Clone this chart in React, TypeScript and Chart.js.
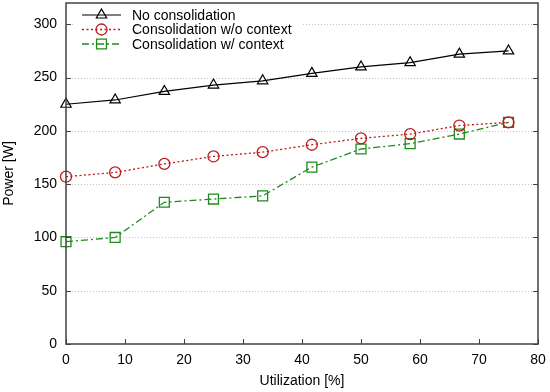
import React, { useEffect, useRef } from 'react';
import { Chart, registerables } from 'chart.js';

Chart.register(...registerables);

const utilization = [0, 8.33, 16.67, 25, 33.33, 41.67, 50, 58.33, 66.67, 75];
const noConsolidation = [225, 229, 237, 243, 247, 254, 260, 264, 272, 275];
const consolidationWithoutContext = [157, 161, 169, 176, 180, 187, 193, 197, 205, 208];
const consolidationWithContext = [96, 100, 133, 136, 139, 166, 183, 188, 197, 208];
const seriesLabels = ['No consolidation', 'Consolidation w/o context', 'Consolidation w/ context'];
const xTickValues = [0, 10, 20, 30, 40, 50, 60, 70, 80];
const yTickValues = [0, 50, 100, 150, 200, 250, 300];
const xTitle = 'Utilization [%]';
const yTitle = 'Power [W]';

const FONT = "'Liberation Sans', Arial, sans-serif";

function drawMarker(ctx: CanvasRenderingContext2D, style: string, x: number, y: number, r: number) {
  ctx.beginPath();
  if (style === 'triangle') {
    let rad = 0;
    ctx.moveTo(x + Math.sin(rad) * r, y - Math.cos(rad) * r);
    rad += (2 * Math.PI) / 3;
    ctx.lineTo(x + Math.sin(rad) * r, y - Math.cos(rad) * r);
    rad += (2 * Math.PI) / 3;
    ctx.lineTo(x + Math.sin(rad) * r, y - Math.cos(rad) * r);
    ctx.closePath();
  } else if (style === 'circle') {
    ctx.arc(x, y, r, 0, Math.PI * 2);
  } else {
    const s = Math.SQRT1_2 * r;
    ctx.rect(x - s, y - s, 2 * s, 2 * s);
  }
  ctx.stroke();
}

const framePlugin = {
  id: 'frame',
  beforeDatasetsDraw(chart: any) {
    const { ctx, chartArea: a, scales } = chart;
    ctx.save();
    ctx.strokeStyle = '#c4c4c4';
    ctx.lineWidth = 1;
    ctx.setLineDash([1, 2]);
    scales.y.ticks.forEach((t: any) => {
      if (t.value <= 0) return;
      const y = Math.round(scales.y.getPixelForValue(t.value)) + 0.5;
      ctx.beginPath();
      ctx.moveTo(a.left, y);
      ctx.lineTo(a.right, y);
      ctx.stroke();
    });
    ctx.restore();
  },
  afterDatasetsDraw(chart: any) {
    const { ctx, chartArea: a } = chart;
    ctx.save();
    // legend
    const x1 = a.left + 16;
    const x2 = a.left + 55;
    const tx = a.left + 66;
    const y0 = a.top + 12;
    const dy = 14.5;
    ctx.fillStyle = '#ffffff';
    ctx.fillRect(a.left + 9, a.top + 3, 228, 48);
    chart.data.datasets.forEach((ds: any, i: number) => {
      const y = y0 + i * dy;
      ctx.strokeStyle = ds.borderColor;
      ctx.lineWidth = ds.borderWidth;
      ctx.setLineDash(ds.borderDash || []);
      ctx.beginPath();
      ctx.moveTo(x1, y);
      ctx.lineTo(x2, y);
      ctx.stroke();
      ctx.setLineDash([]);
      ctx.lineWidth = ds.pointBorderWidth;
      drawMarker(ctx, ds.pointStyle, (x1 + x2) / 2, y, ds.pointRadius);
      ctx.fillStyle = '#000';
      ctx.font = `14px ${FONT}`;
      ctx.textAlign = 'left';
      ctx.textBaseline = 'middle';
      ctx.fillText(ds.label, tx, y + 1);
    });
    ctx.restore();
  },
  afterDraw(chart: any) {
    const { ctx, chartArea: a, scales } = chart;
    ctx.save();
    ctx.strokeStyle = '#404040';
    ctx.lineWidth = 1.5;
    ctx.setLineDash([]);
    ctx.strokeRect(a.left, a.top, a.right - a.left, a.bottom - a.top);
    ctx.lineWidth = 1;
    const tl = 5;
    scales.x.ticks.forEach((t: any) => {
      const x = Math.round(scales.x.getPixelForValue(t.value)) + 0.5;
      ctx.beginPath();
      ctx.moveTo(x, a.bottom);
      ctx.lineTo(x, a.bottom - tl);
      ctx.stroke();
    });
    scales.y.ticks.forEach((t: any) => {
      const y = Math.round(scales.y.getPixelForValue(t.value)) + 0.5;
      ctx.beginPath();
      ctx.moveTo(a.left, y);
      ctx.lineTo(a.left + tl, y);
      ctx.moveTo(a.right, y);
      ctx.lineTo(a.right - tl, y);
      ctx.stroke();
    });
    ctx.restore();
  },
};

export default function App() {
  const ref = useRef<HTMLCanvasElement>(null);
  useEffect(() => {
    if (!ref.current) return;
    Chart.defaults.font.family = FONT;
    Chart.defaults.font.size = 14;
    Chart.defaults.color = '#000';
    const pts = (vals: number[]) => vals.map((v, i) => ({ x: utilization[i], y: v }));
    const chart = new Chart(ref.current, {
      type: 'line',
      data: {
        datasets: [
          {
            label: seriesLabels[0],
            data: pts(noConsolidation),
            borderColor: '#000000',
            borderWidth: 1.2,
            pointStyle: 'triangle',
            pointRadius: 6,
            pointBorderWidth: 1.2,
            pointBorderColor: '#000000',
            pointBackgroundColor: 'rgba(0,0,0,0)',
            clip: false,
          },
          {
            label: seriesLabels[1],
            data: pts(consolidationWithoutContext),
            borderColor: '#bb1a1a',
            borderWidth: 1.3,
            borderDash: [2, 2.5],
            pointStyle: 'circle',
            pointRadius: 5.5,
            pointBorderWidth: 1.3,
            pointBorderColor: '#bb1a1a',
            pointBackgroundColor: 'rgba(0,0,0,0)',
            clip: false,
          },
          {
            label: seriesLabels[2],
            data: pts(consolidationWithContext),
            borderColor: '#1f8a1f',
            borderWidth: 1.3,
            borderDash: [7, 3, 2, 3],
            pointStyle: 'rect',
            pointRadius: 7,
            pointBorderWidth: 1.3,
            pointBorderColor: '#1f8a1f',
            pointBackgroundColor: 'rgba(0,0,0,0)',
            clip: false,
          },
        ] as any,
      },
      options: {
        animation: false,
        responsive: false,
        devicePixelRatio: 1,
        layout: { padding: { left: 0, right: 12, top: 3, bottom: 0 }, autoPadding: false } as any,
        plugins: { legend: { display: false }, tooltip: { enabled: false } },
        scales: {
          x: {
            type: 'linear',
            min: 0,
            max: 80,
            afterBuildTicks: (s: any) => { s.ticks = xTickValues.map((v) => ({ value: v })); },
            afterFit: (s: any) => { s.height = 48; s.paddingLeft = 0; s.paddingRight = 0; },
            grid: { display: false, drawTicks: false },
            border: { display: false },
            ticks: { padding: 8, maxRotation: 0, autoSkip: false, font: { size: 14 } },
            title: { display: true, text: xTitle, font: { size: 14 }, padding: { top: 0, bottom: 2 } },
          },
          y: {
            type: 'linear',
            min: 0,
            max: 320,
            afterBuildTicks: (s: any) => { s.ticks = yTickValues.map((v) => ({ value: v })); },
            afterFit: (s: any) => { s.width = 66; s.paddingTop = 0; s.paddingBottom = 0; },
            grid: { display: false, drawTicks: false },
            border: { display: false },
            ticks: { padding: 9, autoSkip: false, font: { size: 14 } },
            title: { display: true, text: yTitle, font: { size: 14 }, padding: { top: 1, bottom: 0 } },
          },
        },
      } as any,
      plugins: [framePlugin],
    });
    return () => chart.destroy();
  }, []);
  return (
    <div style={{ position: 'absolute', left: 0, top: 0, width: 550, height: 392, background: '#fff' }}>
      <canvas ref={ref} width={550} height={392} style={{ display: 'block' }} />
    </div>
  );
}
